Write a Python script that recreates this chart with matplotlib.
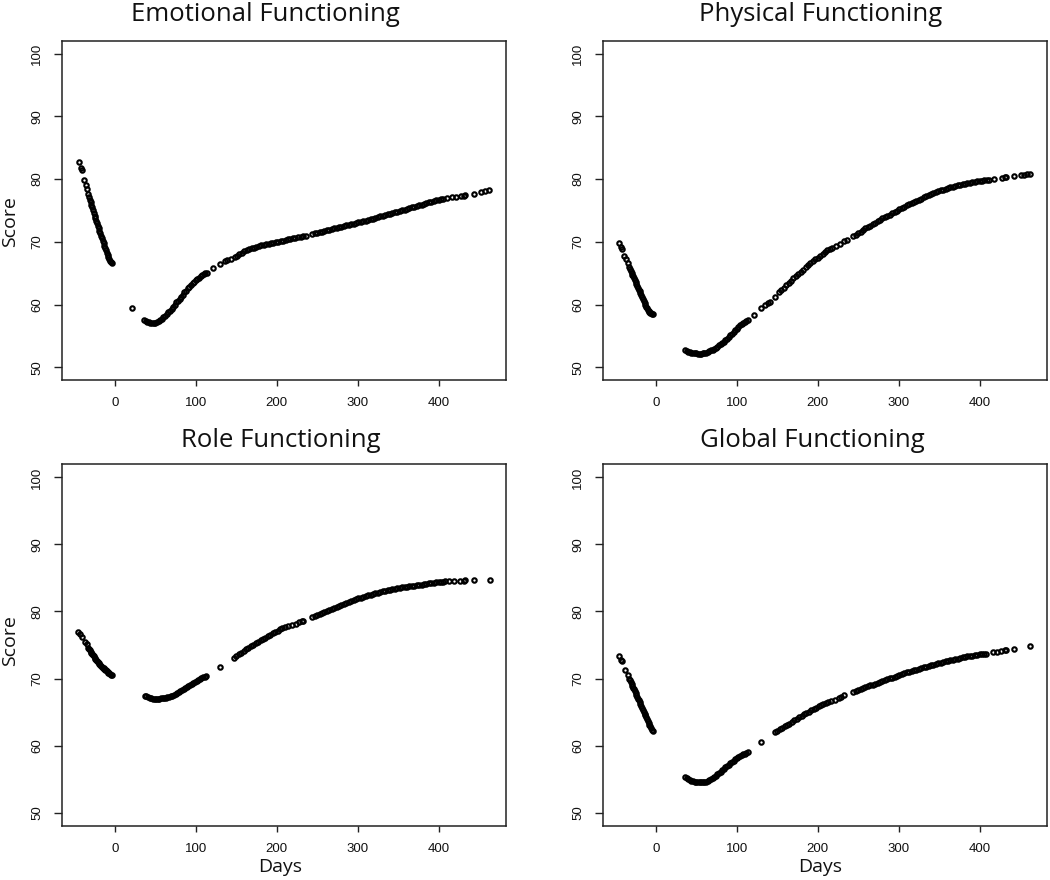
import matplotlib
matplotlib.use("Agg")
import matplotlib.pyplot as plt

# ---------------- data (day, score) ----------------
# Emotional Functioning
ef_pre = [(-44, 82.7), (-42, 81.8), (-41, 81.4), (-38, 79.8), (-36, 79.0), (-35, 78.5),
          (-33, 77.6), (-32, 77.1), (-31, 76.7), (-30, 76.3), (-29, 75.9), (-28, 75.5), (-27, 75.1), (-26, 74.6),
          (-25, 74.2), (-24, 73.8), (-23, 73.4), (-22, 73.0), (-21, 72.6), (-20, 72.2), (-19, 71.8), (-18, 71.4),
          (-17, 71.0), (-16, 70.6), (-15, 70.2), (-14, 69.8), (-13, 69.4), (-12, 69.0), (-11, 68.65), (-10, 68.3),
          (-9, 67.95), (-8, 67.6), (-7, 67.3), (-6, 67.0), (-5, 66.8), (-4, 66.6)]
ef_post = [(21, 59.5),
           (36, 57.5), (38, 57.35), (40, 57.25), (42, 57.2), (44, 57.15), (46, 57.1), (48, 57.1), (50, 57.15),
           (52, 57.2), (54, 57.35), (56, 57.5), (58, 57.7), (60, 58.0), (62, 58.25), (64, 58.5), (66, 58.8),
           (68, 59.05), (70, 59.35), (72, 59.7), (74, 60.0), (76, 60.35), (78, 60.6), (80, 60.95), (82, 61.3),
           (84, 61.6), (86, 61.95), (88, 62.25), (90, 62.6), (92, 62.85), (94, 63.15), (96, 63.4), (98, 63.65),
           (100, 63.9), (102, 64.1), (104, 64.3), (106, 64.5), (108, 64.7), (110, 64.85), (112, 65.0), (114, 65.1),
           (121, 65.8), (130, 66.5), (136, 66.9), (139, 67.1), (143, 67.3), (148, 67.6),
           (151, 67.8), (154, 68.05), (157, 68.3), (160, 68.5), (163, 68.65), (166, 68.8), (169, 68.95), (172, 69.1),
           (175, 69.25), (178, 69.35), (181, 69.45), (184, 69.5), (187, 69.6), (190, 69.7), (193, 69.8), (196, 69.9),
           (199, 69.95), (202, 70.05), (205, 70.15), (208, 70.2), (211, 70.3), (214, 70.4), (217, 70.5), (220, 70.55),
           (223, 70.65), (226, 70.7),
           (230, 70.8), (233, 70.9), (236, 71.0),
           (244, 71.25), (247, 71.35), (250, 71.45), (253, 71.55), (256, 71.65), (259, 71.75), (262, 71.85),
           (265, 71.95), (268, 72.05), (271, 72.15), (274, 72.25), (277, 72.35), (280, 72.45), (283, 72.55),
           (286, 72.65), (289, 72.75), (292, 72.85), (295, 72.9), (298, 73.0), (301, 73.1), (304, 73.2), (307, 73.3),
           (310, 73.35), (313, 73.45), (316, 73.6), (319, 73.7), (322, 73.85), (325, 73.95), (328, 74.05),
           (331, 74.15), (334, 74.25), (337, 74.4), (340, 74.5), (343, 74.6), (346, 74.7), (349, 74.8), (352, 74.95),
           (355, 75.05), (358, 75.15), (361, 75.3), (364, 75.4), (367, 75.5), (370, 75.6), (373, 75.75), (376, 75.85),
           (379, 75.95), (382, 76.05), (385, 76.2), (388, 76.3), (391, 76.4), (394, 76.5), (397, 76.6), (400, 76.7),
           (403, 76.8), (406, 76.9),
           (410, 77.0), (417, 77.1), (422, 77.2), (428, 77.3), (431, 77.35), (433, 77.4), (444, 77.7), (452, 77.9),
           (457, 78.1), (462, 78.25)]

# Physical Functioning
pf_pre = [(-45, 69.9), (-43, 69.2), (-42, 68.9), (-39, 67.8), (-37, 67.2), (-35, 66.6),
          (-33, 66.0), (-32, 65.7), (-31, 65.4), (-30, 65.1), (-29, 64.8), (-28, 64.5), (-27, 64.2), (-26, 63.9),
          (-25, 63.6), (-24, 63.3), (-23, 63.0), (-22, 62.7), (-21, 62.4), (-20, 62.1), (-19, 61.8), (-18, 61.5),
          (-17, 61.2), (-16, 60.9), (-15, 60.6), (-14, 60.3), (-13, 60.0), (-12, 59.7), (-11, 59.45), (-10, 59.2),
          (-9, 59.0), (-8, 58.85), (-7, 58.7), (-6, 58.6), (-5, 58.5), (-4, 58.45)]
pf_post = [(36, 52.7), (38, 52.6), (40, 52.5), (42, 52.4), (44, 52.35), (46, 52.3), (48, 52.3), (50, 52.25),
           (52, 52.2), (54, 52.2), (56, 52.2), (58, 52.25), (60, 52.3), (62, 52.35), (64, 52.45), (66, 52.55),
           (68, 52.7), (70, 52.85), (72, 53.0), (74, 53.15), (76, 53.3), (78, 53.5), (80, 53.7), (82, 53.9),
           (84, 54.1), (86, 54.35), (88, 54.6), (90, 54.9), (92, 55.15), (94, 55.4), (96, 55.7), (98, 55.95),
           (100, 56.2), (102, 56.5), (104, 56.7), (106, 56.9), (108, 57.1), (110, 57.3), (112, 57.45), (114, 57.6),
           (121, 58.4), (130, 59.4), (135, 59.9), (138, 60.2), (141, 60.5), (147, 61.3),
           (152, 62.0), (155, 62.35), (158, 62.7), (161, 63.1), (164, 63.45), (167, 63.8), (170, 64.2), (173, 64.55),
           (176, 64.9), (179, 65.25), (182, 65.6), (185, 65.95), (188, 66.3), (191, 66.6), (194, 66.9), (197, 67.2),
           (200, 67.5), (203, 67.8), (206, 68.1), (209, 68.4), (212, 68.65), (215, 68.85),
           (218, 69.05), (222, 69.35), (227, 69.7), (233, 70.1), (236, 70.3),
           (244, 70.9), (247, 71.15), (250, 71.4), (253, 71.65), (256, 71.9), (259, 72.15), (262, 72.35), (265, 72.6),
           (268, 72.85), (271, 73.05), (274, 73.3), (277, 73.5), (280, 73.75), (283, 73.95), (286, 74.15),
           (289, 74.35), (292, 74.6), (295, 74.8), (298, 75.0), (301, 75.2), (304, 75.4), (307, 75.6), (310, 75.8),
           (313, 76.0), (316, 76.2), (319, 76.4), (322, 76.55), (325, 76.75), (328, 76.9), (331, 77.1), (334, 77.25),
           (337, 77.4), (340, 77.55), (343, 77.75), (346, 77.9), (349, 78.05), (352, 78.2), (355, 78.3), (358, 78.45),
           (361, 78.55), (364, 78.7), (367, 78.8), (370, 78.9), (373, 79.0), (376, 79.1), (379, 79.2), (382, 79.25),
           (385, 79.35), (388, 79.45), (391, 79.5), (394, 79.55), (397, 79.65), (400, 79.7), (403, 79.75),
           (406, 79.8), (409, 79.85), (412, 79.9),
           (418, 80.05), (428, 80.25), (431, 80.3), (433, 80.3), (443, 80.55), (451, 80.7), (455, 80.7), (458, 80.75),
           (462, 80.8)]

# Role Functioning
rf_pre = [(-45, 76.9), (-43, 76.6), (-41, 76.2), (-37, 75.5), (-35, 75.1),
          (-33, 74.6), (-32, 74.4), (-31, 74.2), (-30, 74.0), (-29, 73.8), (-28, 73.65), (-27, 73.45), (-26, 73.3),
          (-25, 73.1), (-24, 72.95), (-23, 72.8), (-22, 72.6), (-21, 72.45), (-20, 72.3), (-19, 72.15), (-18, 72.0),
          (-17, 71.85), (-16, 71.75), (-15, 71.6), (-14, 71.5), (-13, 71.4), (-12, 71.3), (-11, 71.2), (-10, 71.05),
          (-9, 70.95), (-8, 70.85), (-7, 70.75), (-6, 70.65), (-5, 70.55), (-4, 70.5)]
rf_post = [(37, 67.45), (39, 67.35), (41, 67.25), (43, 67.15), (45, 67.05), (47, 67.0), (49, 67.0), (51, 67.0),
           (53, 67.0), (55, 67.0), (57, 67.05), (59, 67.05), (61, 67.1), (63, 67.15), (65, 67.2), (67, 67.3),
           (69, 67.35), (71, 67.45), (73, 67.55), (75, 67.7), (77, 67.8), (79, 67.95), (81, 68.1), (83, 68.25),
           (85, 68.4), (87, 68.55), (89, 68.7), (91, 68.85), (93, 69.0), (95, 69.15), (97, 69.35), (99, 69.5),
           (101, 69.65), (103, 69.8), (105, 69.95), (107, 70.1), (109, 70.2), (111, 70.3), (113, 70.4),
           (130, 71.7),
           (147, 73.0), (150, 73.3), (153, 73.6), (156, 73.85), (159, 74.1), (162, 74.35), (165, 74.6), (168, 74.8),
           (171, 75.05), (174, 75.25), (177, 75.5), (180, 75.7), (183, 75.9), (186, 76.1), (189, 76.35), (192, 76.55),
           (195, 76.75), (198, 76.95), (201, 77.15), (204, 77.35), (207, 77.55), (210, 77.7),
           (214, 77.85), (219, 77.95), (224, 78.15), (228, 78.4), (231, 78.55), (233, 78.6),
           (244, 79.15), (247, 79.3), (250, 79.45), (253, 79.6), (256, 79.75), (259, 79.9), (262, 80.1), (265, 80.25),
           (268, 80.4), (271, 80.55), (274, 80.7), (277, 80.85), (280, 81.0), (283, 81.15), (286, 81.3), (289, 81.45),
           (292, 81.6), (295, 81.7), (298, 81.85), (301, 81.95), (304, 82.05), (307, 82.15), (310, 82.3), (313, 82.4),
           (316, 82.5), (319, 82.6), (322, 82.7), (325, 82.8), (328, 82.9), (331, 83.0), (334, 83.1), (337, 83.2),
           (340, 83.25), (343, 83.35), (346, 83.4), (349, 83.5), (352, 83.55), (355, 83.6), (358, 83.65),
           (361, 83.7), (364, 83.75), (367, 83.8), (370, 83.85), (373, 83.9), (376, 83.95), (379, 84.0), (382, 84.1),
           (385, 84.15), (388, 84.2), (391, 84.25), (394, 84.3), (397, 84.35), (400, 84.4), (403, 84.4),
           (406, 84.45), (408, 84.5), (413, 84.5), (419, 84.55), (427, 84.55), (431, 84.6), (433, 84.65),
           (444, 84.65), (463, 84.65)]

# Global Functioning
gf_pre = [(-45, 73.4), (-43, 72.8), (-42, 72.6), (-38, 71.3), (-35, 70.5),
          (-33, 70.0), (-32, 69.75), (-31, 69.45), (-30, 69.2), (-29, 68.9), (-28, 68.65), (-27, 68.4), (-26, 68.1),
          (-25, 67.85), (-24, 67.55), (-23, 67.3), (-22, 67.0), (-21, 66.75), (-20, 66.45), (-19, 66.15),
          (-18, 65.85), (-17, 65.55), (-16, 65.3), (-15, 65.0), (-14, 64.75), (-13, 64.5), (-12, 64.2), (-11, 63.95),
          (-10, 63.65), (-9, 63.4), (-8, 63.1), (-7, 62.85), (-6, 62.6), (-5, 62.35), (-4, 62.2)]
gf_post = [(36, 55.25), (38, 55.1), (40, 54.95), (42, 54.85), (44, 54.75), (46, 54.65), (48, 54.6), (50, 54.55),
           (52, 54.5), (54, 54.5), (56, 54.5), (58, 54.5), (60, 54.55), (62, 54.6), (64, 54.7), (66, 54.8),
           (68, 54.95), (70, 55.1), (72, 55.3), (74, 55.5), (76, 55.7), (78, 55.9), (80, 56.1), (82, 56.3),
           (84, 56.5), (86, 56.75), (88, 56.95), (90, 57.15), (92, 57.35), (94, 57.55), (96, 57.75), (98, 57.95),
           (100, 58.15), (102, 58.3), (104, 58.45), (106, 58.55), (108, 58.7), (110, 58.8), (112, 58.9), (114, 59.0),
           (130, 60.5),
           (147, 61.95), (150, 62.2), (153, 62.4), (156, 62.6), (159, 62.85), (162, 63.05), (165, 63.25), (168, 63.5),
           (171, 63.75), (174, 63.95), (177, 64.2), (180, 64.4), (183, 64.65), (186, 64.85), (189, 65.05),
           (192, 65.25), (195, 65.45), (198, 65.65), (201, 65.85), (204, 66.0), (207, 66.2), (210, 66.35),
           (213, 66.5), (216, 66.65),
           (221, 66.85), (226, 67.1), (229, 67.3), (232, 67.5),
           (244, 67.95), (247, 68.1), (250, 68.25), (253, 68.4), (256, 68.55), (259, 68.7), (262, 68.85), (265, 69.0),
           (268, 69.1), (271, 69.25), (274, 69.4), (277, 69.55), (280, 69.65), (283, 69.8), (286, 69.9), (289, 70.05),
           (292, 70.15), (295, 70.3), (298, 70.4), (301, 70.55), (304, 70.65), (307, 70.75), (310, 70.9), (313, 71.0),
           (316, 71.1), (319, 71.2), (322, 71.3), (325, 71.45), (328, 71.55), (331, 71.65), (334, 71.75),
           (337, 71.85), (340, 71.95), (343, 72.05), (346, 72.15), (349, 72.25), (352, 72.35), (355, 72.45),
           (358, 72.55), (361, 72.6), (364, 72.7), (367, 72.8), (370, 72.9), (373, 72.95), (376, 73.05),
           (379, 73.15), (382, 73.2), (385, 73.3), (388, 73.35), (391, 73.4), (394, 73.45), (397, 73.5),
           (400, 73.6), (403, 73.65),
           (406, 73.65), (408, 73.7), (417, 73.9), (421, 74.0), (427, 74.1), (431, 74.2), (433, 74.2), (443, 74.4),
           (462, 74.9)]

titles = ["Emotional Functioning", "Physical Functioning", "Role Functioning", "Global Functioning"]
x_ticks = [0, 100, 200, 300, 400]
y_ticks = [50, 60, 70, 80, 90, 100]

# ---------------- figure ----------------
W, H = 1050, 880
fig = plt.figure(figsize=(W / 100, H / 100), dpi=100)
fig.patch.set_facecolor("white")


def fx(px):
    return px / W


def fy(py):
    return 1 - py / H


# axes boxes in pixels: (left, top, right, bottom)
boxes = [(62, 41, 506, 380), (603, 41, 1047, 380),
         (62, 464, 506, 826), (603, 464, 1047, 826)]
panels = [ef_pre + ef_post, pf_pre + pf_post, rf_pre + rf_post, gf_pre + gf_post]

for (l, t, r, b), pts in zip(boxes, panels):
    ax = fig.add_axes([fx(l), fy(b), fx(r) - fx(l), fy(t) - fy(b)])
    days = [p[0] for p in pts]
    score = [p[1] for p in pts]
    ax.plot(days, score, linestyle="none", marker="o", markersize=3.2,
            markerfacecolor="none", markeredgecolor="black", markeredgewidth=1.5)
    ax.set_xlim(-65.3, 483.3)
    ax.set_ylim(48, 102)
    ax.set_xticks(x_ticks)
    ax.set_yticks(y_ticks)
    ax.set_xticklabels([str(v) for v in x_ticks], fontsize=9.5, family="Liberation Sans", color="#111111")
    ax.set_yticklabels([str(v) for v in y_ticks], fontsize=9.5, family="Liberation Sans", color="#111111",
                       rotation=90, va="center")
    ax.tick_params(axis="y", length=6.0, width=1.0, pad=7.5, color="#222222")
    ax.tick_params(axis="x", length=4.5, width=1.0, pad=7.5, color="#222222")
    for sp in ax.spines.values():
        sp.set_linewidth(1.1)
        sp.set_color("#222222")

# titles
title_pos = [(265, 21), (821, 21), (281, 447), (812, 447)]
for txt, (x, y) in zip(titles, title_pos):
    fig.text(fx(x), fy(y), txt, ha="center", va="baseline", fontsize=18.5,
             family="Open Sans", color="#111111")

# axis labels
for y in (222, 641):
    fig.text(fx(10), fy(y), "Score", rotation=90, ha="center", va="center",
             fontsize=14, family="Open Sans", color="#111111")
for x in (280, 820):
    fig.text(fx(x), fy(872), "Days", ha="center", va="baseline",
             fontsize=14, family="Open Sans", color="#111111")

fig.savefig("out.png", dpi=100, facecolor="white")
